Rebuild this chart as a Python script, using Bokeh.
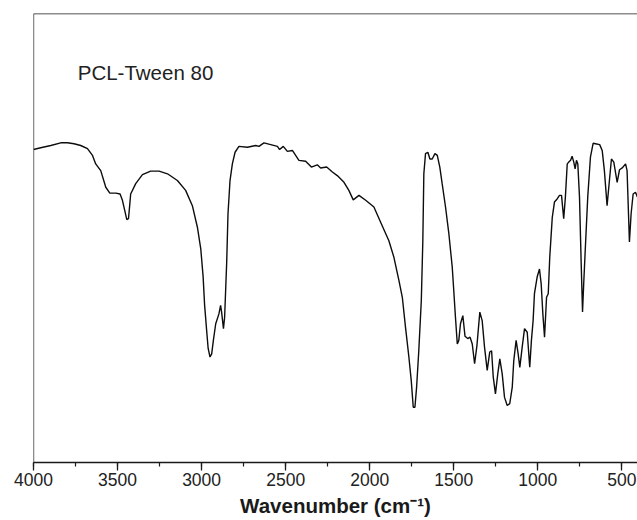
from bokeh.plotting import figure
from bokeh.models import SingleIntervalTicker, Range1d, Label, Span
from bokeh.embed import file_html
from bokeh.resources import INLINE

# FTIR spectrum of PCL-Tween 80
wavenumber = [4000, 3957, 3897, 3838, 3798, 3759, 3719, 3679, 3649, 3630, 3600, 3570, 3546, 3510,
              3485, 3471, 3457, 3445, 3435, 3427, 3422, 3392, 3352, 3303, 3253, 3203, 3144, 3095,
              3055, 3025, 3005, 2991, 2982, 2970, 2961, 2950, 2940, 2930, 2916, 2897, 2887, 2881,
              2870, 2863, 2851, 2843, 2831, 2817, 2801, 2778, 2728, 2678, 2659, 2629, 2589, 2549,
              2536, 2514, 2490, 2460, 2421, 2381, 2347, 2312, 2292, 2256, 2222, 2193, 2153, 2124,
              2098, 2064, 2024, 1975, 1935, 1886, 1856, 1826, 1806, 1787, 1767, 1753, 1741, 1731,
              1721, 1708, 1693, 1684, 1678, 1668, 1654, 1642, 1628, 1612, 1598, 1583, 1569, 1549,
              1529, 1509, 1500, 1490, 1479, 1470, 1460, 1446, 1433, 1417, 1403, 1390, 1376, 1362,
              1345, 1331, 1317, 1301, 1286, 1275, 1265, 1252, 1238, 1226, 1212, 1198, 1182, 1167,
              1152, 1143, 1129, 1117, 1107, 1093, 1079, 1063, 1048, 1038, 1028, 1020, 1004, 990,
              980, 970, 960, 948, 938, 929, 914, 901, 885, 871, 859, 846, 836, 825, 816, 805, 796,
              786, 778, 770, 762, 752, 742, 734, 727, 717, 703, 687, 671, 657, 632, 617, 604, 588,
              574, 562, 548, 528, 514, 498, 478, 469, 455, 445, 433, 419, 407]
transmittance = [69.7, 70.1, 70.6, 71.2, 71.2, 71.0, 70.6, 69.9, 68.4, 66.5, 65.0, 61.3, 60.0, 60.0,
                 59.8, 58.4, 56.1, 54.1, 54.3, 57.6, 59.8, 62.1, 64.1, 64.9, 64.9, 64.3, 62.8, 60.6,
                 57.2, 52.4, 47.6, 41.4, 35.0, 29.4, 25.4, 23.5, 24.2, 27.2, 30.9, 33.1, 35.0, 33.5,
                 29.8, 32.4, 44.3, 55.4, 62.8, 66.5, 69.1, 70.4, 70.2, 70.6, 70.4, 71.2, 70.8, 70.4,
                 69.7, 70.4, 69.3, 69.5, 67.3, 67.1, 65.8, 66.3, 65.6, 65.8, 64.7, 63.9, 62.4, 60.6,
                 58.5, 59.5, 58.4, 56.9, 53.5, 49.4, 45.7, 40.5, 36.8, 30.1, 23.5, 18.3, 12.3, 12.3,
                 16.8, 24.9, 36.1, 49.4, 64.3, 68.8, 69.1, 67.6, 67.6, 68.8, 68.4, 65.8, 62.1, 56.9,
                 50.9, 43.5, 38.3, 32.4, 26.4, 27.2, 30.9, 32.7, 28.1, 27.6, 27.9, 26.4, 22.0, 26.1,
                 33.5, 31.6, 25.7, 20.5, 24.6, 24.9, 19.0, 15.3, 19.8, 23.1, 19.8, 14.5, 12.7, 13.1,
                 16.8, 22.7, 27.2, 24.2, 21.2, 25.7, 29.8, 29.0, 21.2, 27.2, 31.6, 37.6, 41.3, 43.1,
                 39.8, 33.1, 27.9, 36.8, 37.6, 45.7, 54.6, 58.0, 58.7, 59.5, 59.5, 54.3, 59.1, 66.5,
                 66.9, 67.3, 68.2, 66.9, 65.4, 67.3, 66.5, 59.1, 44.3, 33.5, 39.8, 48.0, 59.1, 68.0,
                 71.1, 71.0, 70.8, 69.5, 65.0, 57.2, 62.8, 67.6, 66.9, 62.4, 65.2, 65.6, 66.5, 65.0,
                 49.1, 55.4, 59.8, 60.2, 59.1]

x_start, x_end = 4000, 407
y_start, y_end = 0, 100
tick_interval = 500
sample_name = "PCL-Tween 80"
x_title = "Wavenumber (cm\u207b\u00b9)"

p = figure(width=637, height=520, output_backend="svg", toolbar_location=None,
           x_range=Range1d(x_start, x_end), y_range=Range1d(y_start, y_end),
           y_axis_location=None, min_border_left=33, min_border_top=13,
           min_border_right=0, min_border_bottom=58)
p.grid.visible = False
p.background_fill_color = "white"
p.border_fill_color = "white"
p.outline_line_color = None

# left and top frame lines (the right side runs off the picture)
p.add_layout(Span(location=x_start, dimension="height", line_color="#1a1a1a", line_width=1.3))
p.add_layout(Span(location=y_end, dimension="width", line_color="#1a1a1a", line_width=1.3))

p.line(wavenumber, transmittance, line_color="#0d0d0d", line_width=1.4)

ax = p.xaxis[0]
ax.ticker = SingleIntervalTicker(interval=tick_interval, num_minor_ticks=2)
ax.axis_line_color = "#1a1a1a"
ax.axis_line_width = 1.3
ax.major_tick_line_color = "#1a1a1a"
ax.major_tick_line_width = 1.3
ax.minor_tick_line_color = "#1a1a1a"
ax.minor_tick_line_width = 1.2
ax.major_tick_out = 8
ax.major_tick_in = 0
ax.minor_tick_out = 4
ax.minor_tick_in = 0
ax.major_label_text_font = "Liberation Sans"
ax.major_label_text_font_size = "17.5px"
ax.major_label_text_color = "#222222"
ax.major_label_standoff = 2
ax.axis_label = x_title
ax.axis_label_text_font = "Liberation Sans"
ax.axis_label_text_font_size = "20.5px"
ax.axis_label_text_font_style = "bold"
ax.axis_label_text_color = "#1a1a1a"
ax.axis_label_standoff = 5

p.add_layout(Label(x=3737, y=86.9, text=sample_name, text_font="Liberation Sans",
                   text_font_size="20.5px", text_color="#222222",
                   text_baseline="alphabetic", text_align="left"))

open("out.html", "w").write(file_html(p, INLINE))
